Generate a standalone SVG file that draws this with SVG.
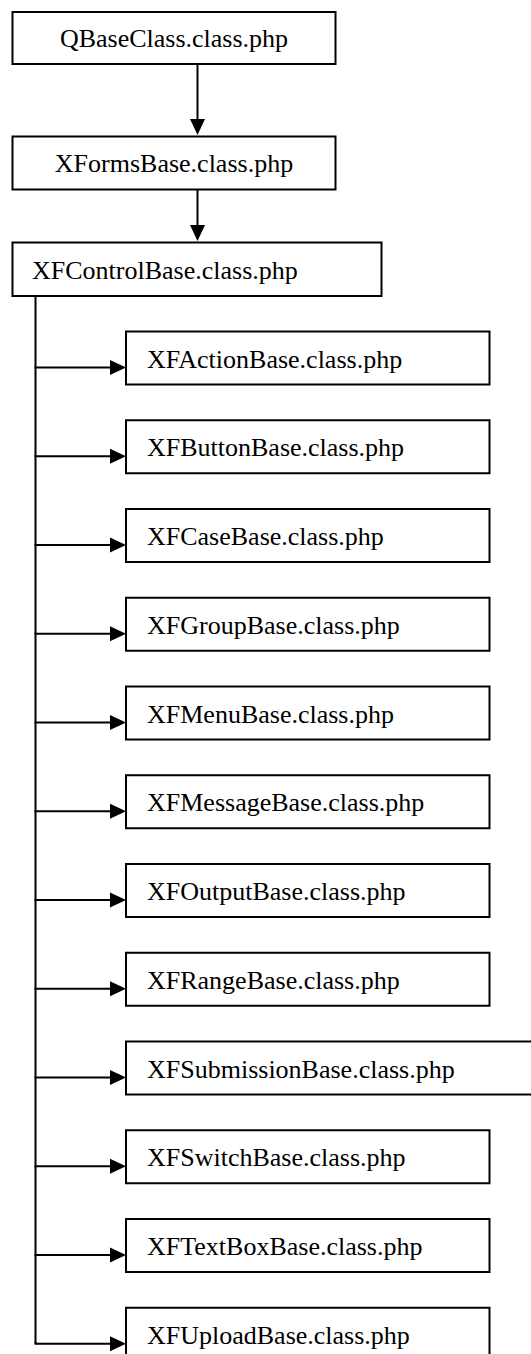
<svg xmlns="http://www.w3.org/2000/svg" width="531" height="1354" viewBox="0 0 531 1354">
  <style>
    .box { fill: #ffffff; stroke: #000000; stroke-width: 2; }
    .lbl { font-family: "Liberation Serif", "Times New Roman", serif; font-size: 26px; fill: #000000; }
    .mid { text-anchor: middle; }
    .wire { fill: none; stroke: #000000; stroke-width: 2; }
  </style>
  <defs>
    <marker id="head" markerUnits="userSpaceOnUse" markerWidth="16" markerHeight="15" refX="2" refY="7.5" orient="auto" overflow="visible">
      <path d="M0,0 L16,7.5 L0,15 Z" fill="#000000"/>
    </marker>
  </defs>

  <!-- inheritance connectors -->
  <g id="connectors" class="wire">
    <line x1="197.5" y1="64" x2="197.5" y2="121" marker-end="url(#head)"/>
    <line x1="197.5" y1="189.5" x2="197.5" y2="227" marker-end="url(#head)"/>
    <line x1="35.5" y1="296" x2="35.5" y2="1343.5"/>
    <line x1="34.5" y1="367.5" x2="112" y2="367.5" marker-end="url(#head)"/>
    <line x1="34.5" y1="456.25" x2="112" y2="456.25" marker-end="url(#head)"/>
    <line x1="34.5" y1="545" x2="112" y2="545" marker-end="url(#head)"/>
    <line x1="34.5" y1="633.75" x2="112" y2="633.75" marker-end="url(#head)"/>
    <line x1="34.5" y1="722.5" x2="112" y2="722.5" marker-end="url(#head)"/>
    <line x1="34.5" y1="811.25" x2="112" y2="811.25" marker-end="url(#head)"/>
    <line x1="34.5" y1="900" x2="112" y2="900" marker-end="url(#head)"/>
    <line x1="34.5" y1="988.75" x2="112" y2="988.75" marker-end="url(#head)"/>
    <line x1="34.5" y1="1077.5" x2="112" y2="1077.5" marker-end="url(#head)"/>
    <line x1="34.5" y1="1166.25" x2="112" y2="1166.25" marker-end="url(#head)"/>
    <line x1="34.5" y1="1255" x2="112" y2="1255" marker-end="url(#head)"/>
    <path d="M35.5,1342 V1343.75 H112" marker-end="url(#head)"/>
  </g>

  <g id="QBaseClass">
    <rect class="box" x="12.5" y="12" width="323" height="52"/>
    <text class="lbl mid" x="174" y="47">QBaseClass.class.php</text>
  </g>
  <g id="XFormsBase">
    <rect class="box" x="12.5" y="136.5" width="323" height="53"/>
    <text class="lbl mid" x="174" y="172">XFormsBase.class.php</text>
  </g>
  <g id="XFControlBase">
    <rect class="box" x="12.5" y="242.5" width="369" height="53.5"/>
    <text class="lbl" x="32" y="278.5">XFControlBase.class.php</text>
  </g>

  <g id="XFActionBase">
    <rect class="box" x="126" y="331.5" width="363.5" height="53"/>
    <text class="lbl" x="147" y="367.5">XFActionBase.class.php</text>
  </g>
  <g id="XFButtonBase">
    <rect class="box" x="126" y="420.25" width="363.5" height="53"/>
    <text class="lbl" x="147" y="456.25">XFButtonBase.class.php</text>
  </g>
  <g id="XFCaseBase">
    <rect class="box" x="126" y="509" width="363.5" height="53"/>
    <text class="lbl" x="147" y="545">XFCaseBase.class.php</text>
  </g>
  <g id="XFGroupBase">
    <rect class="box" x="126" y="597.75" width="363.5" height="53"/>
    <text class="lbl" x="147" y="633.75">XFGroupBase.class.php</text>
  </g>
  <g id="XFMenuBase">
    <rect class="box" x="126" y="686.5" width="363.5" height="53"/>
    <text class="lbl" x="147" y="722.5">XFMenuBase.class.php</text>
  </g>
  <g id="XFMessageBase">
    <rect class="box" x="126" y="775.25" width="363.5" height="53"/>
    <text class="lbl" x="147" y="811.25">XFMessageBase.class.php</text>
  </g>
  <g id="XFOutputBase">
    <rect class="box" x="126" y="864" width="363.5" height="53"/>
    <text class="lbl" x="147" y="900">XFOutputBase.class.php</text>
  </g>
  <g id="XFRangeBase">
    <rect class="box" x="126" y="952.75" width="363.5" height="53"/>
    <text class="lbl" x="147" y="988.75">XFRangeBase.class.php</text>
  </g>
  <g id="XFSubmissionBase">
    <rect class="box" x="126" y="1041.5" width="420" height="53"/>
    <text class="lbl" x="147" y="1077.5">XFSubmissionBase.class.php</text>
  </g>
  <g id="XFSwitchBase">
    <rect class="box" x="126" y="1130.25" width="363.5" height="53"/>
    <text class="lbl" x="147" y="1166.25">XFSwitchBase.class.php</text>
  </g>
  <g id="XFTextBoxBase">
    <rect class="box" x="126" y="1219" width="363.5" height="53"/>
    <text class="lbl" x="147" y="1255">XFTextBoxBase.class.php</text>
  </g>
  <g id="XFUploadBase">
    <rect class="box" x="126" y="1307.75" width="363.5" height="53"/>
    <text class="lbl" x="147" y="1343.75">XFUploadBase.class.php</text>
  </g>
</svg>
